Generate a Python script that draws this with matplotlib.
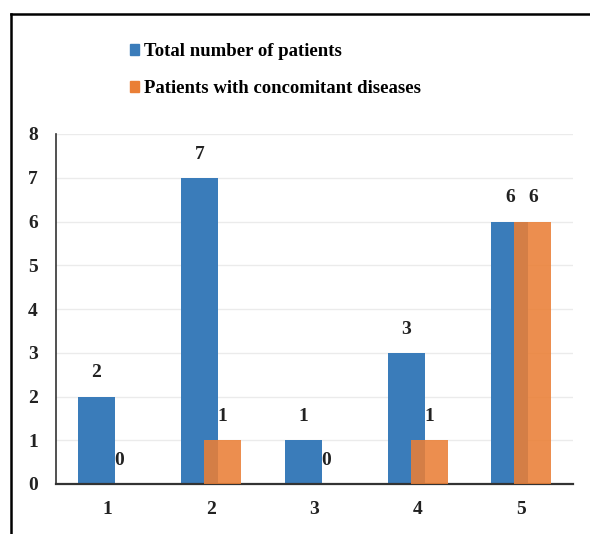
import matplotlib
matplotlib.use("Agg")
import matplotlib.pyplot as plt
from matplotlib.lines import Line2D
from matplotlib.patches import Patch

categories = ["1", "2", "3", "4", "5"]
total_patients = [2, 7, 1, 3, 6]
concomitant = [0, 1, 0, 1, 6]
series_names = ["Total number of patients", "Patients with concomitant diseases"]
yticks = [0, 1, 2, 3, 4, 5, 6, 7, 8]

plt.rcParams['font.family'] = ['Liberation Serif', 'DejaVu Serif']
plt.rcParams['font.weight'] = 'bold'

blue = "#3A7CBA"
orange = "#EA7F36"

fig = plt.figure(figsize=(5.9, 5.34), dpi=100)
ax = fig.add_axes([56/590, 1-484/534, (573-56)/590, (484-134)/534])

x = list(range(1, len(categories)+1))
w = 0.358
off = 0.111
b1 = ax.bar([xi - off for xi in x], total_patients, width=w, color=blue, zorder=2)
b2 = ax.bar([xi + off for xi in x], concomitant, width=w, color=orange, alpha=0.88, zorder=3)

for bars, vals in ((b1, total_patients), (b2, concomitant)):
    for r, v in zip(bars, vals):
        ax.annotate(str(v), (r.get_x() + r.get_width()/2, v), xytext=(0, 17),
                    textcoords='offset points', ha='center', va='center',
                    fontsize=14, fontweight='bold', color='#222222', zorder=5)

ax.set_xlim(0.5, 5.5)
ax.set_ylim(0, 8)
ax.set_yticks(yticks)
ax.set_xticks(x)
ax.set_xticklabels(categories)
ax.tick_params(axis='both', length=0, labelsize=14, colors='#222222')
ax.tick_params(axis='y', pad=13)
ax.tick_params(axis='x', pad=12)
for lab in ax.get_xticklabels() + ax.get_yticklabels():
    lab.set_fontweight('bold')
ax.grid(axis='y', color='#EBEBEB', lw=1, zorder=0)
ax.set_axisbelow(True)
for s in ['top', 'right']:
    ax.spines[s].set_visible(False)
ax.spines['left'].set_color('#333333')
ax.spines['left'].set_linewidth(1.2)
ax.spines['bottom'].set_color('#333333')
ax.spines['bottom'].set_linewidth(1.6)

handles = [Patch(color=blue), Patch(color=orange)]
leg = fig.legend(handles, series_names, loc='upper left', bbox_to_anchor=(122/590, 1-36/534),
                 frameon=False, fontsize=13.5, handlelength=0.5, handleheight=0.5,
                 handletextpad=0.3, labelspacing=1.05, borderaxespad=0)
for t in leg.get_texts():
    t.set_fontweight('bold')

# outer frame (top and left only visible)
fig.add_artist(Line2D([11/590, 1.0], [1-14/534, 1-14/534], transform=fig.transFigure, color='black', lw=1.8))
fig.add_artist(Line2D([11/590, 11/590], [0, 1-14/534], transform=fig.transFigure, color='black', lw=1.8))

fig.savefig("out.png", dpi=100)
